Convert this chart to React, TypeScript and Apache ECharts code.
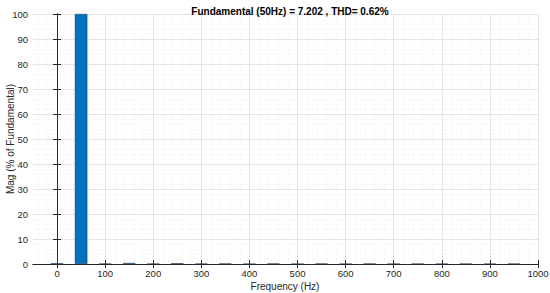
import React, { useEffect, useRef } from "react";
import * as echarts from "echarts";

const titleText = "Fundamental (50Hz) = 7.202 , THD= 0.62%";
const xName = "Frequency (Hz)";
const yName = "Mag (% of Fundamental)";
const xTicks = [0, 100, 200, 300, 400, 500, 600, 700, 800, 900, 1000];
const xMinor = [-40, -20, 0, 20, 40, 60, 80, 100, 120, 140, 160, 180, 200, 220, 240, 260, 280, 300, 320, 340, 360, 380, 400, 420, 440, 460, 480, 500, 520, 540, 560, 580, 600, 620, 640, 660, 680, 700, 720, 740, 760, 780, 800, 820, 840, 860, 880, 900, 920, 940, 960, 980, 1000];
const freqs = [0, 50, 100, 150, 200, 250, 300, 350, 400, 450, 500, 550, 600, 650, 700, 750, 800, 850, 900, 950];
const mags = [0.3, 100, 0.1, 0.4, 0.1, 0.3, 0.1, 0.2, 0.05, 0.2, 0.05, 0.15, 0.05, 0.15, 0.05, 0.1, 0.05, 0.1, 0.05, 0.1];

const FONT = "Liberation Sans, Arial, sans-serif";
const AXIS = "#262626";

export default function App() {
  const ref = useRef<HTMLDivElement>(null);
  useEffect(() => {
    if (!ref.current) return;
    const chart = echarts.init(ref.current, undefined, { renderer: "svg" });
    const common = { min: -50, max: 1000, type: "value" as const };
    chart.setOption({
      animation: false,
      textStyle: { fontFamily: FONT },
      title: {
        text: titleText,
        left: 285,
        textAlign: "center",
        top: 1,
        textStyle: { fontSize: 10, fontWeight: "bold", color: "#000", fontFamily: FONT },
      },
      graphic: [
        {
          type: "text",
          x: 285,
          y: 286,
          style: { text: xName, fill: AXIS, fontSize: 10, fontFamily: FONT, textAlign: "center", textVerticalAlign: "middle" },
        },
        {
          type: "text",
          x: 10,
          y: 139,
          rotation: Math.PI / 2,
          style: { text: yName, fill: AXIS, fontSize: 10, fontFamily: FONT, textAlign: "center", textVerticalAlign: "middle" },
        },
      ],
      grid: { left: 33, right: 12, top: 14, bottom: 29, containLabel: false, outerBoundsMode: "none" },
      xAxis: [
        {
          ...common,
          position: "bottom",
          axisLine: { show: true, lineStyle: { color: AXIS, width: 1 } },
          axisTick: { show: true, inside: true, length: 4, customValues: xTicks, lineStyle: { color: AXIS } },
          axisLabel: { customValues: xTicks, fontSize: 9.5, color: AXIS, margin: 4, fontFamily: FONT, formatter: (v: number) => String(v) },
          splitLine: { show: true, lineStyle: { color: "#e3e3e3", width: 1 } },
        },
        {
          ...common,
          position: "top",
          axisLine: { show: true, lineStyle: { color: AXIS, width: 1 } },
          axisTick: { show: true, inside: true, length: 4, customValues: xTicks, lineStyle: { color: AXIS } },
          axisLabel: { show: false },
          splitLine: { show: false },
        },
        {
          ...common,
          position: "bottom",
          axisLine: { show: false },
          axisTick: { show: false, customValues: xMinor },
          axisLabel: { show: false },
          splitLine: { show: true, lineStyle: { color: "#f0f0f0", width: 1, type: [1, 2] } },
          z: -1,
        },
      ],
      yAxis: [
        {
          type: "value",
          min: 0,
          max: 100,
          interval: 10,
          position: "left",
          axisLine: { show: true, lineStyle: { color: AXIS, width: 1 } },
          axisTick: { show: true, inside: true, length: 4, lineStyle: { color: AXIS } },
          axisLabel: { fontSize: 9.5, color: AXIS, margin: 5, fontFamily: FONT },
          splitLine: { show: true, lineStyle: { color: "#e3e3e3", width: 1 } },
          minorTick: { show: false, splitNumber: 5 },
          minorSplitLine: { show: true, lineStyle: { color: "#f0f0f0", width: 1, type: [1, 2] } },
        },
        {
          type: "value",
          min: 0,
          max: 100,
          interval: 10,
          position: "right",
          axisLine: { show: true, lineStyle: { color: AXIS, width: 1 } },
          axisTick: { show: true, inside: true, length: 4, lineStyle: { color: AXIS } },
          axisLabel: { show: false },
          splitLine: { show: false },
        },
      ],
      series: [
        {
          type: "bar",
          xAxisIndex: 0,
          yAxisIndex: 0,
          barWidth: 12.5,
          data: freqs.map((f, i) => [f, mags[i]]),
          itemStyle: { color: "#0072BD", borderColor: "#1f3550", borderWidth: 0.5 },
          z: 3,
        },
      ],
    });
    return () => chart.dispose();
  }, []);
  return <div ref={ref} style={{ width: 550, height: 293, position: "absolute", left: 0, top: 0 }} />;
}
